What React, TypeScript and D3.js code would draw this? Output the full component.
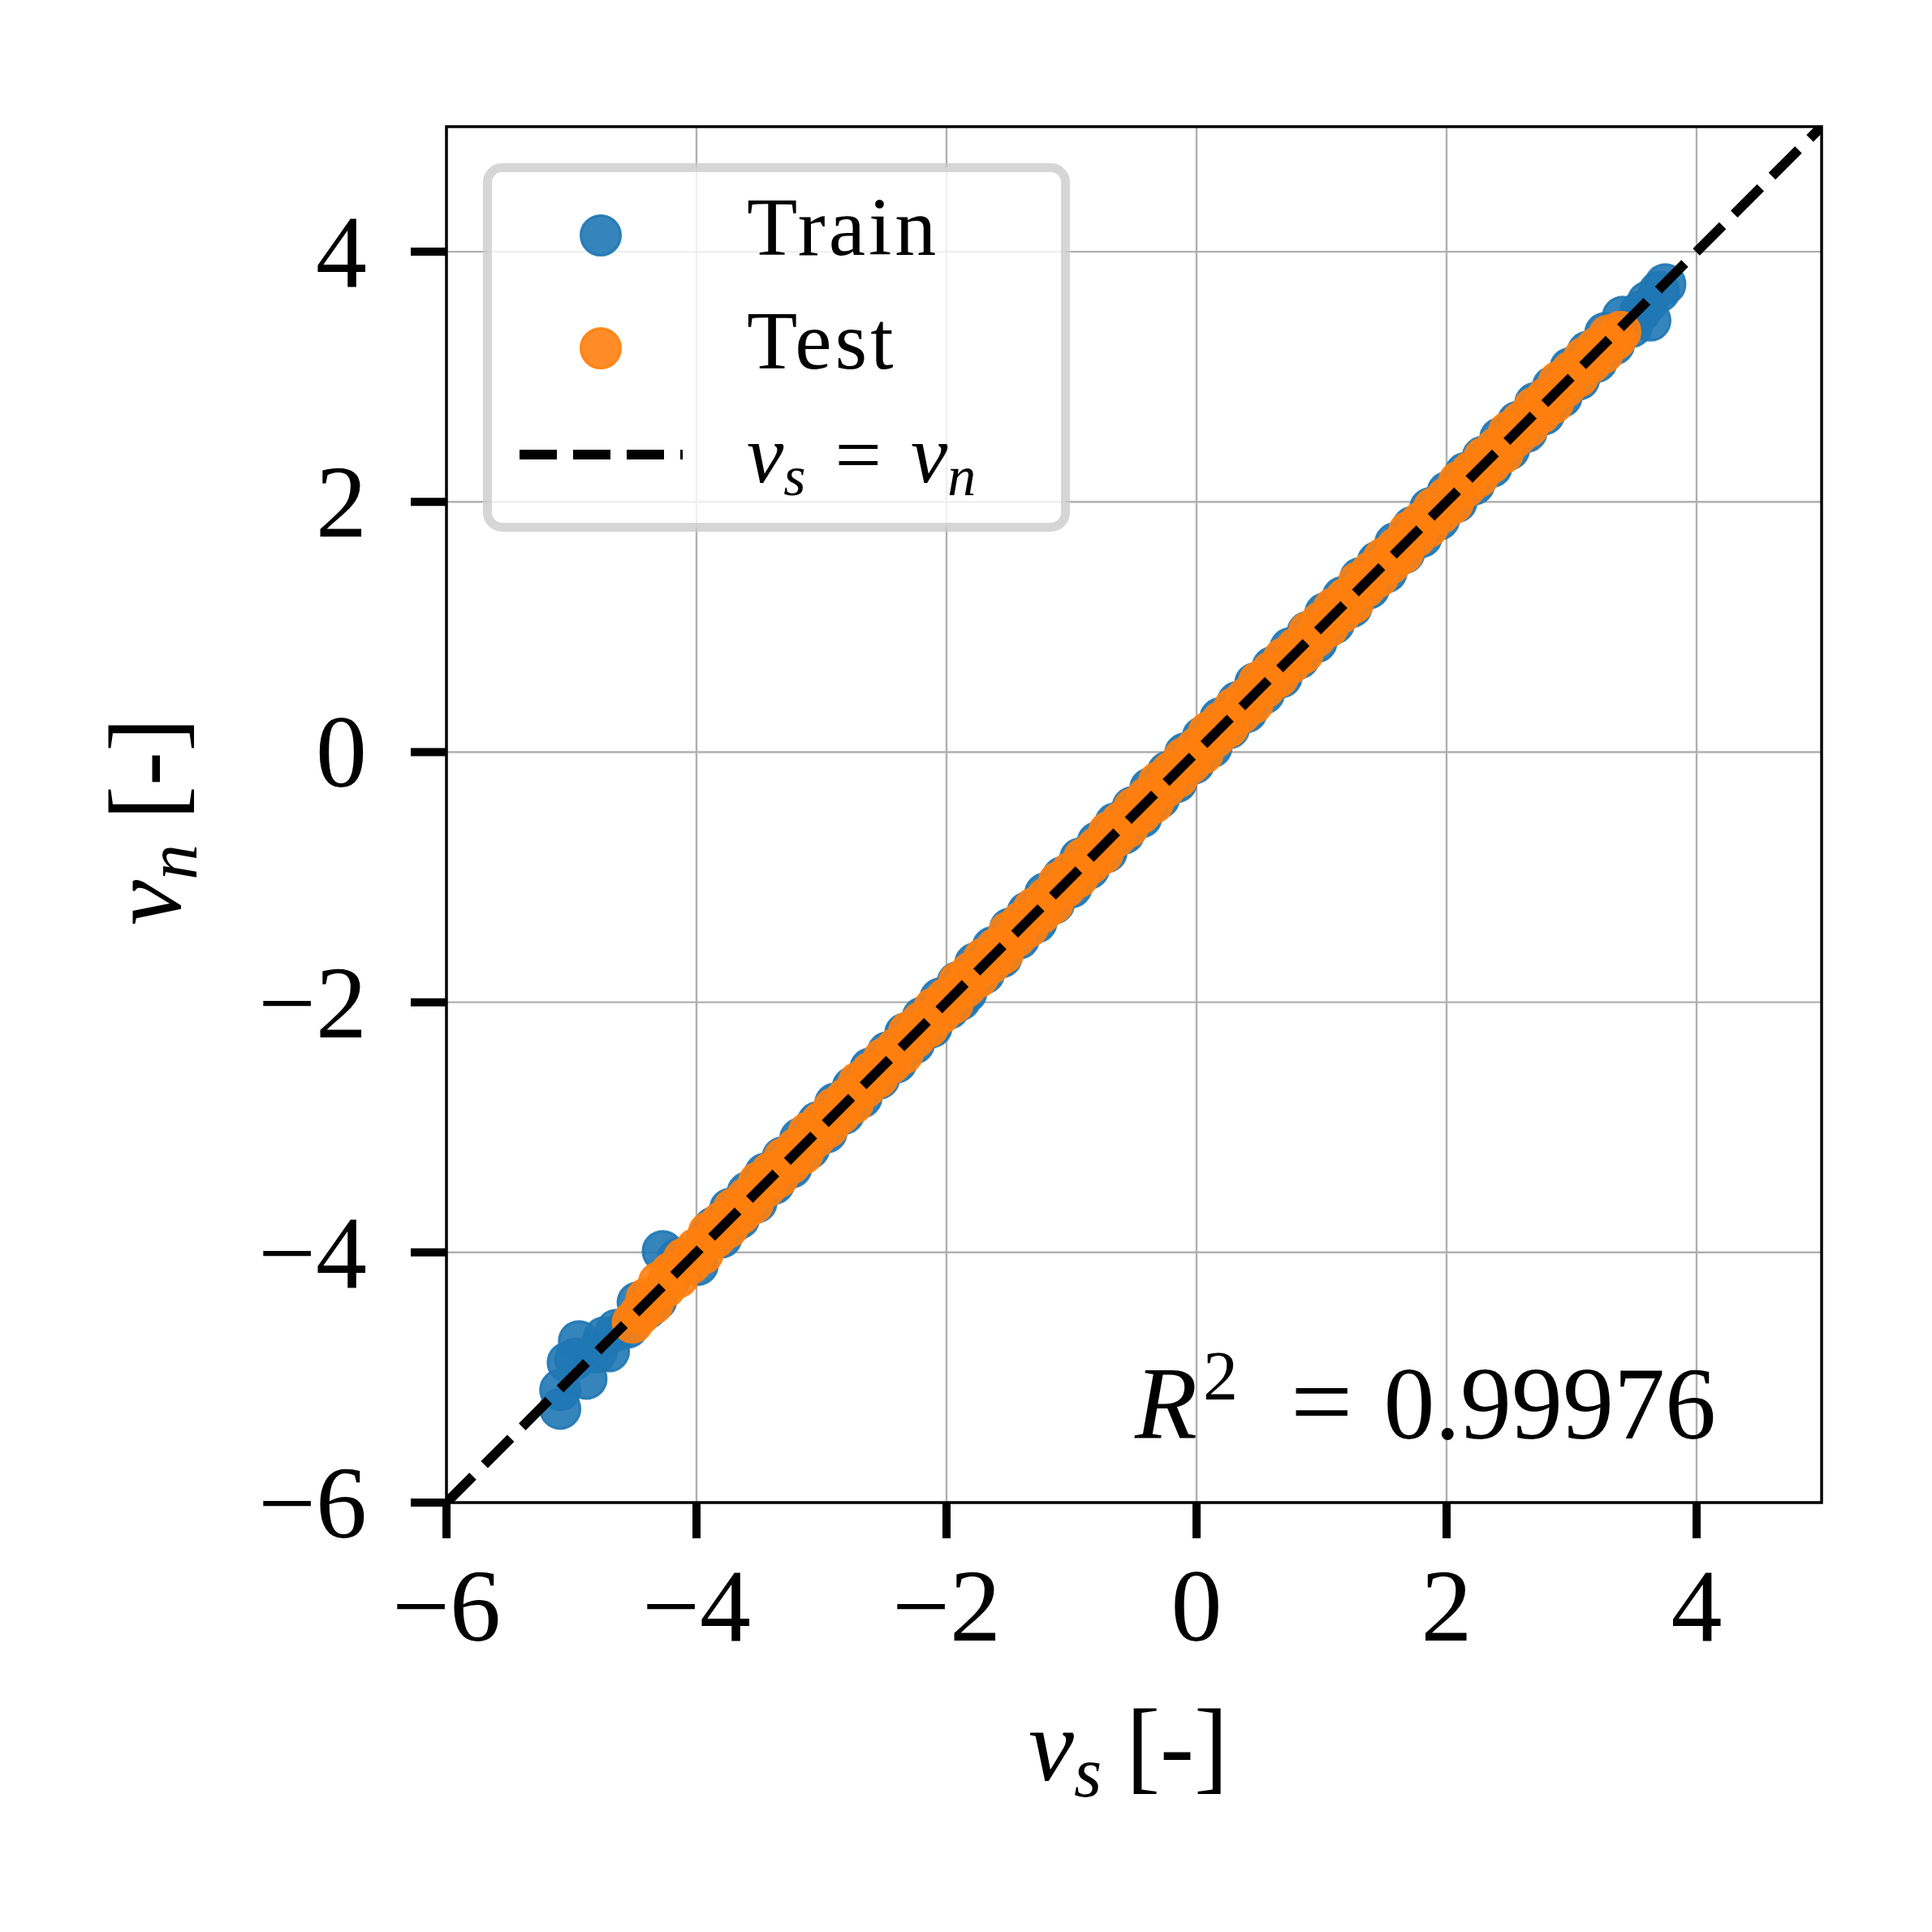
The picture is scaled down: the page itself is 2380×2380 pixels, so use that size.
import React from "react";
import * as d3 from "d3";

// values (simulated nu_s vs network nu_n)
const trainS = [
  -5.09, -5.09, -5.03, -4.97, -4.94, -4.88, -4.8, -4.74, -4.7, -4.64, -4.55, -4.47, -4.4, -4.32,
  -4.27, -4.22, -4.15, -3.99, -3.92, -3.86,
  -3.8, -3.73, -3.66, -3.59, -3.52, -3.45, -3.38, -3.31, -3.24, -3.17, -3.1, -3.03, -2.96, -2.89,
  -2.82, -2.75, -2.68, -2.61, -2.54, -2.47, -2.4, -2.33, -2.26, -2.19, -2.12, -2.05, -1.98, -1.91,
  -1.89, -1.84, -1.77, -1.7, -1.63, -1.56, -1.49, -1.42, -1.35, -1.28, -1.21, -1.14, -1.07, -1.0,
  -0.93, -0.86, -0.79, -0.72, -0.65, -0.58, -0.51, -0.44, -0.37, -0.3, -0.23, -0.16, -0.09, -0.02,
  0.05, 0.12, 0.19, 0.26, 0.33, 0.4, 0.47, 0.54, 0.61, 0.68, 0.75, 0.82, 0.89, 0.96, 1.03, 1.1,
  1.17, 1.24, 1.31, 1.38, 1.45, 1.52, 1.59, 1.66, 1.73, 1.8, 1.87, 1.94, 2.01, 2.08, 2.15, 2.22,
  2.29, 2.36, 2.43, 2.5, 2.57, 2.64, 2.71, 2.78, 2.85, 2.92, 2.99, 3.06, 3.13, 3.2, 3.27, 3.34,
  3.41, 3.48, 3.55, 3.63, 3.61, 3.7, 3.75,
];
const trainN = [
  -5.25, -5.1, -4.88, -4.85, -4.71, -5.01, -4.8, -4.68, -4.79, -4.62, -4.6, -4.4, -4.45, -4.38,
  -3.99, -4.22, -4.05, -4.1, -3.9, -3.8,
  -3.88, -3.65, -3.73, -3.52, -3.6, -3.37, -3.45, -3.24, -3.32, -3.09, -3.17, -2.96, -3.04, -2.81,
  -2.89, -2.68, -2.76, -2.53, -2.61, -2.4, -2.48, -2.25, -2.33, -2.12, -2.2, -1.97, -2.05, -1.84,
  -1.98, -1.92, -1.69, -1.77, -1.56, -1.64, -1.41, -1.49, -1.28, -1.36, -1.13, -1.21, -1.0, -1.08,
  -0.85, -0.93, -0.72, -0.8, -0.57, -0.65, -0.44, -0.52, -0.29, -0.37, -0.16, -0.24, -0.01, -0.09,
  0.12, 0.04, 0.27, 0.19, 0.4, 0.32, 0.55, 0.47, 0.68, 0.6, 0.83, 0.75, 0.96, 0.88, 1.11, 1.03,
  1.24, 1.16, 1.39, 1.31, 1.52, 1.44, 1.67, 1.59, 1.8, 1.72, 1.95, 1.86, 2.08, 2.0, 2.23, 2.14,
  2.36, 2.28, 2.51, 2.42, 2.64, 2.56, 2.79, 2.7, 2.92, 2.84, 3.07, 2.98, 3.2, 3.12, 3.35, 3.26,
  3.48, 3.4, 3.52, 3.45, 3.6, 3.68, 3.74,
];
const testS = [
  -4.51, -4.45, -4.4, -4.35, -4.3, -4.25, -4.2, -4.15, -4.1, -4.05, -4.0, -3.95, -3.9, -3.85,
  -3.8, -3.75, -3.7, -3.65, -3.6, -3.55, -3.5, -3.45, -3.4, -3.35, -3.3, -3.25, -3.2, -3.15,
  -3.1, -3.05, -3.0, -2.95, -2.9, -2.85, -2.8, -2.75, -2.7, -2.65, -2.6, -2.55, -2.5, -2.45,
  -2.4, -2.35, -2.3, -2.25, -2.2, -2.15, -2.1, -2.05, -2.0, -1.95, -1.9, -1.85, -1.8, -1.75,
  -1.7, -1.65, -1.6, -1.55, -1.5, -1.45, -1.4, -1.35, -1.3, -1.25, -1.2, -1.15, -1.1, -1.05,
  -1.0, -0.95, -0.9, -0.85, -0.8, -0.75, -0.7, -0.65, -0.6, -0.55, -0.5, -0.45, -0.4, -0.35,
  -0.3, -0.25, -0.2, -0.15, -0.1, -0.05, 0.0, 0.05, 0.1, 0.15, 0.2, 0.25, 0.3, 0.35, 0.4, 0.45,
  0.5, 0.55, 0.6, 0.65, 0.7, 0.75, 0.8, 0.85, 0.9, 0.95, 1.0, 1.05, 1.1, 1.15, 1.2, 1.25, 1.3,
  1.35, 1.4, 1.45, 1.5, 1.55, 1.6, 1.65, 1.7, 1.75, 1.8, 1.85, 1.9, 1.95, 2.0, 2.05, 2.1, 2.15,
  2.2, 2.25, 2.3, 2.35, 2.4, 2.45, 2.5, 2.55, 2.6, 2.65, 2.7, 2.75, 2.8, 2.85, 2.9, 2.95, 3.0,
  3.05, 3.1, 3.15, 3.2, 3.25, 3.3, 3.35, 3.39,
];
const testN = [
  -4.56, -4.49, -4.37, -4.41, -4.24, -4.28, -4.16, -4.2, -4.05, -4.09, -3.97, -4.01, -3.84, -3.88,
  -3.76, -3.8, -3.65, -3.69, -3.57, -3.61, -3.44, -3.48, -3.36, -3.4, -3.25, -3.29, -3.17, -3.21,
  -3.04, -3.08, -2.96, -3.0, -2.85, -2.89, -2.77, -2.81, -2.64, -2.68, -2.56, -2.6, -2.45, -2.49,
  -2.37, -2.41, -2.24, -2.28, -2.16, -2.2, -2.05, -2.09, -1.97, -2.01, -1.84, -1.88, -1.76, -1.8,
  -1.65, -1.69, -1.57, -1.61, -1.44, -1.48, -1.36, -1.4, -1.25, -1.29, -1.17, -1.21, -1.04, -1.08,
  -0.96, -1.0, -0.85, -0.89, -0.77, -0.81, -0.64, -0.68, -0.56, -0.6, -0.45, -0.49, -0.37, -0.41,
  -0.24, -0.28, -0.16, -0.2, -0.05, -0.09, 0.03, -0.01, 0.16, 0.12, 0.24, 0.2, 0.35, 0.31, 0.43,
  0.39, 0.56, 0.52, 0.64, 0.6, 0.75, 0.71, 0.83, 0.79, 0.96, 0.92, 1.04, 1.0, 1.15, 1.11, 1.23,
  1.19, 1.36, 1.32, 1.44, 1.4, 1.55, 1.51, 1.63, 1.59, 1.76, 1.72, 1.84, 1.8, 1.95, 1.91, 2.03,
  1.99, 2.16, 2.12, 2.24, 2.2, 2.35, 2.31, 2.43, 2.39, 2.56, 2.52, 2.64, 2.6, 2.75, 2.71, 2.83,
  2.79, 2.96, 2.92, 3.04, 3.0, 3.15, 3.11, 3.23, 3.19, 3.33, 3.3, 3.36,
];
const tickValues = [-6, -4, -2, 0, 2, 4];
const axisDomain = [-6, 5];
const identityLine = [-6, 5];
const r2Text = "0.99976";
const legendNames = ["Train", "Test"];

const BLUE = "#1f77b4";
const ORANGE = "#ff7f0e";
const FONT = "'Liberation Serif', 'DejaVu Serif', serif";

const margin = { left: 550, right: 136, top: 156, bottom: 529 };
const W = 2380;
const H = 2380;

const fmt = (v: number) => (v < 0 ? "\u2212" + Math.abs(v) : String(v));

export default function App() {
  const x = d3.scaleLinear().domain(axisDomain).range([margin.left, W - margin.right]);
  const y = d3.scaleLinear().domain(axisDomain).range([H - margin.bottom, margin.top]);
  const [x0, x1] = x.range();
  const [y0, y1] = y.range();

  const train = trainS.map((s, i) => [s, trainN[i]]);
  const test = testS.map((s, i) => [s, testN[i]]);

  const line = d3
    .line<number>()
    .x((d) => x(d))
    .y((d) => y(d));

  const dot = (d: number[], i: number, color: string) => (
    <circle
      key={i}
      cx={x(d[0])}
      cy={y(d[1])}
      r={24.5}
      fill={color}
      fillOpacity={0.9}
      stroke={color}
      strokeOpacity={0.9}
      strokeWidth={3}
    />
  );

  return (
    <svg
      width={W}
      height={H}
      style={{ position: "absolute", left: 0, top: 0, background: "#fff" }}
      fontFamily={FONT}
    >
      <defs>
        <clipPath id="plotArea">
          <rect x={x0} y={y1} width={x1 - x0} height={y0 - y1} />
        </clipPath>
      </defs>
      <rect width={W} height={H} fill="#fff" />

      {/* grid */}
      <g stroke="#b0b0b0" strokeWidth={2.4}>
        {tickValues.map((t) => (
          <line key={"gx" + t} x1={x(t)} x2={x(t)} y1={y0} y2={y1} />
        ))}
        {tickValues.map((t) => (
          <line key={"gy" + t} x1={x0} x2={x1} y1={y(t)} y2={y(t)} />
        ))}
      </g>

      {/* points */}
      <g clipPath="url(#plotArea)">
        {train.map((d, i) => dot(d, i, BLUE))}
        {test.map((d, i) => dot(d, i, ORANGE))}
        <path
          d={line(identityLine) || ""}
          fill="none"
          stroke="#000"
          strokeWidth={12}
          strokeDasharray="46 20"
        />
      </g>

      {/* spines */}
      <rect x={x0} y={y1} width={x1 - x0} height={y0 - y1} fill="none" stroke="#000" strokeWidth={3.5} />

      {/* ticks */}
      <g stroke="#000" strokeWidth={10}>
        {tickValues.map((t) => (
          <line key={"tx" + t} x1={x(t)} x2={x(t)} y1={y0} y2={y0 + 44} />
        ))}
        {tickValues.map((t) => (
          <line key={"ty" + t} x1={x0 - 44} x2={x0} y1={y(t)} y2={y(t)} />
        ))}
      </g>
      <g fontSize={126} fill="#000">
        {tickValues.map((t) => (
          <text key={"lx" + t} x={x(t)} y={2021} textAnchor="middle">
            {fmt(t)}
          </text>
        ))}
        {tickValues.map((t) => (
          <text key={"ly" + t} x={452} y={y(t) + 43} textAnchor="end">
            {fmt(t)}
          </text>
        ))}
      </g>

      {/* axis labels */}
      <text x={1390} y={2193} fontSize={126} textAnchor="middle">
        <tspan fontStyle="italic">ν</tspan>
        <tspan fontStyle="italic" fontSize={88} dy={20}>s</tspan>
        <tspan dy={-20} dx={30}>[-]</tspan>
      </text>
      <text transform="translate(222,1012) rotate(-90)" fontSize={126} textAnchor="middle">
        <tspan fontStyle="italic">ν</tspan>
        <tspan fontStyle="italic" fontSize={88} dy={20}>n</tspan>
        <tspan dy={-20} dx={30}>[-]</tspan>
      </text>

      {/* R^2 annotation */}
      <g fontSize={126}>
        <text x={1398} y={1772} fontStyle="italic">R</text>
        <text x={1482} y={1724} fontSize={86}>2</text>
        <text x={1628} y={1772} textAnchor="middle" fontSize={136}>=</text>
        <text x={2114} y={1772} textAnchor="end">{r2Text}</text>
      </g>

      {/* legend */}
      <rect
        x={600.5}
        y={206.5}
        width={712}
        height={443}
        rx={18}
        fill="#fff"
        fillOpacity={0.8}
        stroke="#cccccc"
        strokeOpacity={0.8}
        strokeWidth={11}
      />
      {[BLUE, ORANGE].map((c, i) => (
        <circle
          key={c}
          cx={740}
          cy={290 + i * 139}
          r={24.5}
          fill={c}
          fillOpacity={0.9}
          stroke={c}
          strokeOpacity={0.9}
          strokeWidth={3}
        />
      ))}
      <line x1={640} x2={841} y1={560} y2={560} stroke="#000" strokeWidth={12} strokeDasharray="46 20" />
      <g fontSize={102}>
        {legendNames.map((n, i) => (
          <text key={n} x={920} y={314 + i * 140} letterSpacing={4}>
            {n}
          </text>
        ))}
        <text x={920} y={594}>
          <tspan fontStyle="italic">ν</tspan>
          <tspan fontStyle="italic" fontSize={70} dy={16}>s</tspan>
          <tspan dy={-16} dx={36}>=</tspan>
          <tspan dx={36} fontStyle="italic">ν</tspan>
          <tspan fontStyle="italic" fontSize={70} dy={16}>n</tspan>
        </text>
      </g>
    </svg>
  );
}
